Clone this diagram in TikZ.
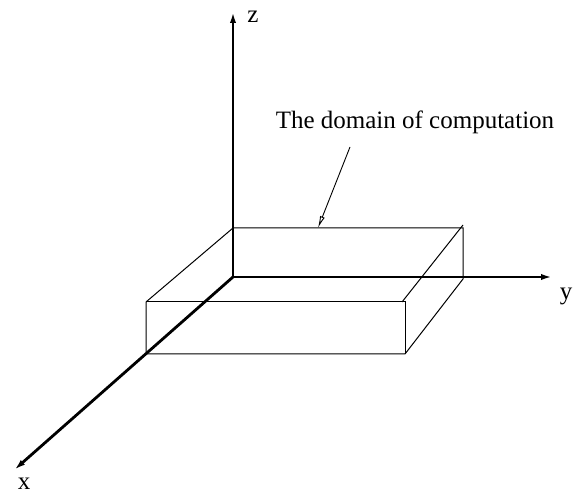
\documentclass[tikz,border=0pt]{standalone}
\usepackage{fontspec}
\setmainfont{Liberation Serif}
\usepackage{tikz}
\usetikzlibrary{arrows.meta,positioning}
\begin{document}
\begin{tikzpicture}[
      x=1pt,y=-1pt,
      font=\fontsize{25}{30}\selectfont,
      axis/.style={-{Latex[length=13pt,width=6pt]},line width=2.8pt},
      edge/.style={line width=1pt},
      pointer/.style={-{Latex[open,length=12pt,width=5pt]},line width=0.9pt},
      label/.style={inner sep=0pt,anchor=base}
    ]
    \useasboundingbox (0,0) rectangle (574,492);
    \coordinate (o) at (233,277);
    \coordinate (ztip) at (233,10);
    \coordinate (ytip) at (554,277);
    \coordinate (xtip) at (13,471);
    % box corners
    \coordinate (tbl) at (233,228);
    \coordinate (tbr) at (463,228);
    \coordinate (tfl) at (146,302);
    \coordinate (tfr) at (405,302);
    \coordinate (bfl) at (146,354);
    \coordinate (bfr) at (405,354);
    \coordinate (bbr) at (463,279);
    \coordinate (ext) at (463,225);
    \coordinate (mid) at (318,228);
    \coordinate (kink) at (402,302);
    \draw[edge] (tbl) -- (tbr) -- (bbr) -- (bfr) -- (bfl) -- (tfl) -- (tbl);
    \draw[edge] (tfl) -- (tfr) -- (bfr);
    \draw[edge] (kink) -- (ext);
    \draw[axis] (o) -- (ztip);
    \draw[axis] (o) -- (ytip);
    \draw[axis] (o) -- (xtip);
    \node[label] (zlab) at (253,23) {z};
    \node[label] (ylab) at (566,300) {y};
    \node[label] (xlab) at (24,489) {x};
    \node[label] (title) at (415,129) {The domain of computation};
    \coordinate (start) at (350,147);
    \draw[pointer] (start) -- (mid);
  \end{tikzpicture}
\end{document}
